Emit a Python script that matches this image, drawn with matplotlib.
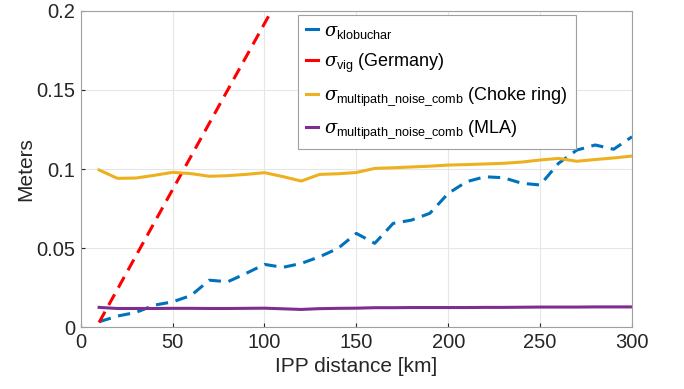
import matplotlib
matplotlib.use("Agg")
import matplotlib.pyplot as plt

plt.rcParams['font.family'] = ['Liberation Sans', 'DejaVu Sans']
plt.rcParams['mathtext.fontset'] = 'custom'
plt.rcParams['mathtext.rm'] = 'Liberation Sans'
plt.rcParams['mathtext.it'] = 'DejaVu Serif:italic'

# IPP distance [km]
distance = [10, 20, 30, 40, 50, 60, 70, 80, 90, 100,
            110, 120, 130, 140, 150, 160, 170, 180, 190, 200,
            210, 220, 230, 240, 250, 260, 270, 280, 290, 300]

sigma_klobuchar = [0.0034, 0.0070, 0.0093, 0.0139, 0.0160, 0.0200, 0.0297, 0.0287, 0.0340, 0.0397,
                   0.0378, 0.0403, 0.0445, 0.0498, 0.0593, 0.0530, 0.0656, 0.0677, 0.0720, 0.0846,
                   0.0920, 0.0951, 0.0945, 0.0910, 0.0899, 0.1036, 0.1120, 0.1152, 0.1125, 0.1204]

# only the first part is visible, rest is clipped at 0.2
dist_vig = [10, 20, 30, 40, 50, 60, 70, 80, 90, 100, 110]
sigma_vig = [0.003, 0.024, 0.045, 0.066, 0.087, 0.108, 0.129, 0.150, 0.171, 0.192, 0.213]

sigma_choke = [0.0994, 0.0941, 0.0943, 0.0960, 0.0979, 0.0971, 0.0954, 0.0958, 0.0966, 0.0977,
               0.0952, 0.0924, 0.0966, 0.0970, 0.0978, 0.1004, 0.1008, 0.1013, 0.1018, 0.1025,
               0.1028, 0.1032, 0.1036, 0.1044, 0.1057, 0.1067, 0.1049, 0.1060, 0.1070, 0.1082]

sigma_mla = [0.0125, 0.0118, 0.0118, 0.0118, 0.0119, 0.0119, 0.0118, 0.0118, 0.0119, 0.0120,
             0.0116, 0.0112, 0.0117, 0.0119, 0.0120, 0.0123, 0.0123, 0.0124, 0.0124, 0.0124,
             0.0124, 0.0125, 0.0125, 0.0126, 0.0127, 0.0127, 0.0127, 0.0128, 0.0128, 0.0128]

labels = [r'$\sigma_{\mathrm{klobuchar}}$',
          r'$\sigma_{\mathrm{vig}}$ (Germany)',
          r'$\sigma_{\mathrm{multipath\_noise\_comb}}$ (Choke ring)',
          r'$\sigma_{\mathrm{multipath\_noise\_comb}}$ (MLA)']

xticks = [0, 50, 100, 150, 200, 250, 300]
yticks = [0, 0.05, 0.1, 0.15, 0.2]
ytick_labels = ["0", "0.05", "0.1", "0.15", "0.2"]

fig = plt.figure(figsize=(6.84, 3.89), dpi=100)
ax = fig.add_axes([0.118, 0.159, 0.806, 0.813])

ax.plot(distance, sigma_klobuchar, color="#0072BD", lw=2.2, dashes=(4, 2.5), label=labels[0])
ax.plot(dist_vig, sigma_vig, color="#FF0000", lw=2.2, dashes=(4, 2.5), label=labels[1])
ax.plot(distance, sigma_choke, color="#EDB120", lw=2.2, label=labels[2])
ax.plot(distance, sigma_mla, color="#7E2F8E", lw=2.2, label=labels[3])

ax.set_xlim(0, 300)
ax.set_ylim(0, 0.2)
ax.set_xticks(xticks)
ax.set_yticks(yticks)
ax.set_yticklabels(ytick_labels)
ax.tick_params(direction="in", length=3, labelsize=14.5, colors="#262626", pad=4)
for s in ax.spines.values():
    s.set_color("#a0a0a0")
ax.grid(True, color="#e6e6e6", linewidth=0.8)
ax.set_axisbelow(True)

ax.set_xlabel("IPP distance [km]", fontsize=15, color="#262626")
ax.set_ylabel("Meters", fontsize=15, color="#262626", labelpad=1)

leg = ax.legend(loc="upper left", bbox_to_anchor=(0.387, 1.0), fontsize=13,
                handlelength=0.7, handletextpad=0.3, fancybox=False,
                edgecolor="#a0a0a0", framealpha=1.0, borderpad=0.45, labelspacing=0.6,
                borderaxespad=0.2)
leg.get_frame().set_linewidth(0.8)
for h in leg.get_lines():
    h.set_linestyle("-")

fig.savefig("out.png", dpi=100)
